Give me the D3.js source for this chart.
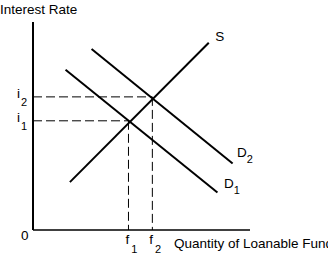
<!DOCTYPE html>
<html>
<head>
<meta charset="utf-8">
<script src="https://cdn.jsdelivr.net/npm/d3@7"></script>
<style>
  body { margin: 0; background: #fff; }
  text { font-family: "Liberation Sans", Arial, sans-serif; fill: #000; }
</style>
</head>
<body>
<svg id="chart" width="328" height="255"></svg>
<script>
// curves in abstract units (0..100 on both axes)
const supply = [[17, 23], [81, 90]];
const demand1 = [[15, 77], [85, 18]];
const demand2 = [[27, 87], [92, 32]];

// equilibrium points: [quantity, rate]
const equilibria = [
    {q: 44, r: 52.5, f: '1', i: '1'},
    {q: 55, r: 64, f: '2', i: '2'}
];

const curveLabels = [
    {name: 'S', sub: '', at: [84, 91]},
    {name: 'D', sub: '2', at: [94, 35]},
    {name: 'D', sub: '1', at: [88, 20]}
];

const svg = d3.select('#chart');

const x = d3.scaleLinear().domain([0, 100]).range([33, 250]);
const y = d3.scaleLinear().domain([0, 100]).range([230, 22]);

const line = d3.line()
    .x(d => x(d[0]))
    .y(d => y(d[1]));

// axes
svg.append('line')
    .attr('x1', x(0)).attr('y1', y(100))
    .attr('x2', x(0)).attr('y2', y(0))
    .attr('stroke', '#000').attr('stroke-width', 2);
svg.append('line')
    .attr('x1', x(0)).attr('y1', y(0))
    .attr('x2', x(100)).attr('y2', y(0))
    .attr('stroke', '#000').attr('stroke-width', 1.5);

// dashed guides
const guides = svg.append('g')
    .attr('stroke', '#000')
    .attr('stroke-width', 1)
    .attr('stroke-dasharray', '9,4');

equilibria.forEach(e => {
    guides.append('line')
        .attr('x1', x(0)).attr('y1', y(e.r))
        .attr('x2', x(e.q)).attr('y2', y(e.r));
    guides.append('line')
        .attr('x1', x(e.q)).attr('y1', y(e.r))
        .attr('x2', x(e.q)).attr('y2', y(0));
});

// curves
[supply, demand1, demand2].forEach(c => {
    svg.append('path')
        .attr('d', line(c))
        .attr('fill', 'none')
        .attr('stroke', '#000')
        .attr('stroke-width', 2);
});

// curve labels
curveLabels.forEach(l => {
    const t = svg.append('text')
        .attr('x', x(l.at[0]))
        .attr('y', y(l.at[1]))
        .style('font-size', '13.5px')
        .text(l.name);
    if (l.sub) {
        t.append('tspan')
            .attr('dy', 6)
            .style('font-size', '11px')
            .text(l.sub);
    }
});

// tick labels with subscripts
equilibria.forEach(e => {
    svg.append('text')
        .attr('x', x(e.q) - 3)
        .attr('y', y(0) + 14)
        .style('font-size', '13.5px')
        .text('f')
        .append('tspan')
        .attr('dy', 9)
        .attr('dx', 2)
        .style('font-size', '11px')
        .text(e.f);
    svg.append('text')
        .attr('x', 17)
        .attr('y', y(e.r) + 1)
        .style('font-size', '13.5px')
        .text('i')
        .append('tspan')
        .attr('dy', 8)
        .attr('dx', 1)
        .style('font-size', '11px')
        .text(e.i);
});

svg.append('text')
    .attr('x', 21)
    .attr('y', y(0) + 10)
    .style('font-size', '13.5px')
    .text('0');

svg.append('text')
    .attr('x', 0)
    .attr('y', 14)
    .style('font-size', '13.5px')
    .text('Interest Rate');

svg.append('text')
    .attr('x', 174)
    .attr('y', 248)
    .style('font-size', '13.5px')
    .text('Quantity of Loanable Funds');
</script>
</body>
</html>
